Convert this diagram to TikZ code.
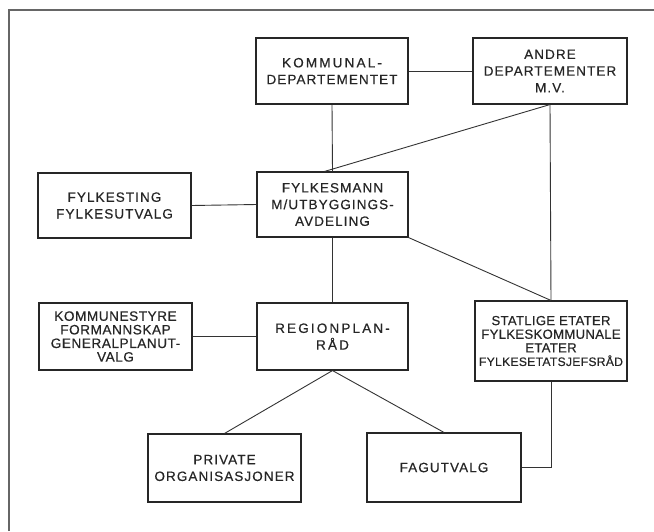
\documentclass[tikz,border=0pt]{standalone}
\usepackage{fontspec}
\setmainfont{Liberation Sans}
\newfontfamily\widefont[LetterSpace=8,FakeBold=0.5]{Liberation Sans}
\newfontfamily\midfont[LetterSpace=4,FakeBold=0.5]{Liberation Sans}
\newfontfamily\tightfont[LetterSpace=2,FakeBold=0.5]{Liberation Sans}
\begin{document}
\begin{tikzpicture}[x=1pt,y=-1pt,
  box/.style={draw=black!85, line width=1.1pt, align=center, inner sep=0pt, text=black!85},
  wtext/.style={font=\widefont\fontsize{13.5}{16.7}\selectfont},
  mtext/.style={font=\midfont\fontsize{13.6}{13.6}\selectfont},
  stext/.style={font=\tightfont\fontsize{13.2}{13.6}\selectfont},
  conn/.style={draw=black!80, line width=0.9pt},
  frame/.style={draw=black!60, line width=2pt}]
\useasboundingbox (0,0) rectangle (654,531);
\draw[frame] (8.5,531) -- (8.5,9.5) -- (654,9.5);

\node[box, wtext, minimum width=152pt, minimum height=66pt] (K) at (332,71) {{\addfontfeature{LetterSpace=16}KOMMUNAL-}\\DEPARTEMENTET};
\node[box, wtext, minimum width=154pt, minimum height=66pt] (A) at (550,71) {ANDRE\\DEPARTEMENTER\\M.V.};
\node[box, wtext, minimum width=153pt, minimum height=65pt] (FT) at (114.5,205.5) {FYLKESTING\\FYLKESUTVALG};
\node[box, wtext, minimum width=151pt, minimum height=65pt] (FM) at (332.5,204.5) {FYLKESMANN\\M/UTBYGGINGS-\\AVDELING};
\node[box, mtext, minimum width=153pt, minimum height=67pt] (KS) at (115.5,336.5) {KOMMUNESTYRE\\FORMANNSKAP\\GENERALPLANUT-\\VALG};
\node[box, wtext, minimum width=151pt, minimum height=67pt] (RP) at (332.5,336.5) {{\addfontfeature{LetterSpace=16}REGIONPLAN-}\\{\addfontfeature{LetterSpace=16}RÅD}};
\node[box, stext, minimum width=152pt, minimum height=80pt] (ST) at (551,341) {STATLIGE ETATER\\FYLKESKOMMUNALE\\ETATER\\{\fontsize{12.2}{13.6}\selectfont FYLKESETATSJEFSRÅD}};
\node[box, wtext, minimum width=153pt, minimum height=68pt] (PO) at (224.5,468) {PRIVATE\\ORGANISASJONER};
\node[box, wtext, minimum width=154pt, minimum height=69pt] (FG) at (444,467.5) {FAGUTVALG};

\draw[conn] (K.east) -- (A.west);
\draw[conn] (K.south) -- (FM.north);
\draw[conn] (A.south) -- ([xshift=-8pt]FM.north);
\draw[conn] (A.south) -- (ST.north);
\draw[conn] (FT.east) -- (FM.west);
\draw[conn] (FM.south) -- (RP.north);
\draw[conn] (FM.south east) -- (ST.north);
\draw[conn] (KS.east) -- (RP.west);
\draw[conn] (RP.south) -- (PO.north);
\draw[conn] (RP.south) -- (FG.north);
\draw[conn] (ST.south) |- (FG.east);
\end{tikzpicture}
\end{document}
